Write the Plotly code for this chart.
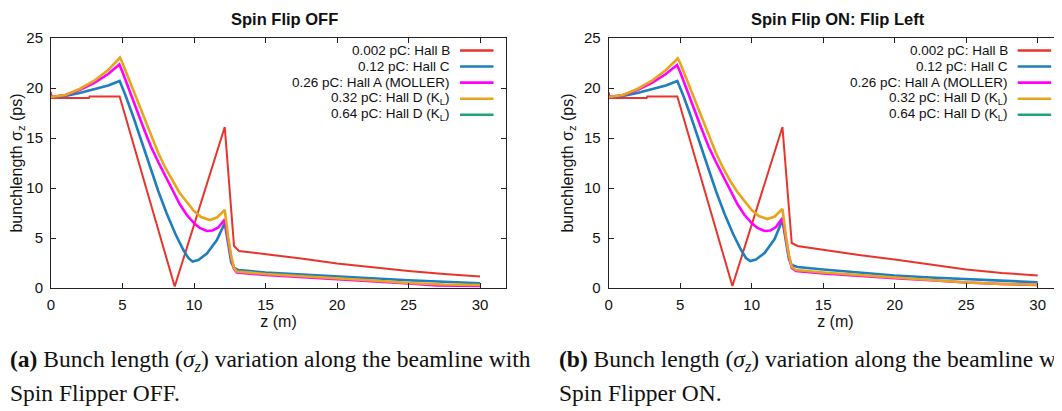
import plotly.graph_objects as go

# ---------------- data (z in m, sigma_z in ps) ----------------
# Panel (a): Spin Flip OFF
off_red_z = [0, 0.05, 2.65, 2.7, 4.8, 8.65, 12.15, 12.55, 12.8, 13.15, 15, 17.5, 20, 22.5, 25, 27.5, 30]
off_red_v = [19.6, 19.0, 19.0, 19.15, 19.15, 0.15, 16.1, 8.6, 4.2, 3.7, 3.4, 2.95, 2.45, 2.05, 1.7, 1.4, 1.15]

off_blue_z = [0, 1, 2, 3, 4, 4.8, 5.2, 5.76, 6.35, 6.92, 7.5, 8.09, 8.7, 9.26, 9.6, 9.9, 10.3, 10.9, 11.6, 12.15,
              12.4, 12.6, 12.8, 13.1, 15, 17.5, 20, 22.5, 25, 27.5, 30]
off_blue_v = [19.1, 19.2, 19.5, 19.85, 20.25, 20.7, 19.3, 17.1, 14.6, 12.1, 9.7, 7.45, 5.4, 3.8, 3.0, 2.65, 2.8, 3.45, 4.8, 6.5,
              4.3, 2.6, 2.0, 1.8, 1.55, 1.35, 1.12, 0.95, 0.78, 0.62, 0.48]

off_mag_z = [0, 1, 2, 3, 4, 4.78, 5.0, 5.5, 6, 6.5, 7, 7.5, 8, 8.5, 9, 9.5, 10, 10.4, 10.9, 11.3, 11.7, 12.15,
             12.4, 12.6, 12.8, 13.0, 15, 17.5, 20, 22.5, 25, 27, 30]
off_mag_v = [19.1, 19.3, 19.8, 20.5, 21.4, 22.35, 21.6, 19.8, 17.8, 15.9, 14.1, 12.6, 11.2, 9.8, 8.4, 7.3, 6.5, 6.0, 5.7, 5.75, 6.05, 6.85,
             4.5, 3.0, 1.9, 1.55, 1.3, 1.1, 0.88, 0.7, 0.45, 0.25, 0.2]

off_org_z = [0, 1, 2, 3, 4, 4.83, 5.0, 5.5, 6, 6.5, 7, 7.5, 8, 8.5, 9, 9.5, 10, 10.5, 11.1, 11.6, 12.15,
             12.4, 12.6, 12.8, 13.0, 15, 17.5, 20, 22.5, 25, 27.5, 30]
off_org_v = [19.1, 19.3, 19.9, 20.7, 21.8, 23.05, 22.5, 20.7, 18.9, 17.0, 15.2, 13.5, 12.0, 10.7, 9.5, 8.6, 7.7, 7.1, 6.8, 7.05, 7.8,
             5.0, 3.2, 2.0, 1.65, 1.4, 1.2, 0.95, 0.75, 0.5, 0.35, 0.3]

off_grn_z = []
off_grn_v = []

# Panel (b): Spin Flip ON: Flip Left
on_red_z = [0, 0.05, 2.65, 2.7, 4.8, 8.65, 12.15, 12.55, 12.8, 13.2, 15, 17.5, 20, 22.5, 25, 27.5, 30]
on_red_v = [19.6, 19.0, 19.0, 19.15, 19.15, 0.2, 16.1, 8.8, 4.5, 4.2, 3.8, 3.3, 2.85, 2.35, 1.85, 1.5, 1.25]

on_blue_z = [0, 1, 2, 3, 4, 4.8, 5.2, 5.76, 6.35, 6.92, 7.5, 8.09, 8.7, 9.26, 9.6, 9.9, 10.3, 10.9, 11.6, 12.15,
             12.4, 12.6, 12.8, 13.2, 15, 17.5, 20, 22.5, 25, 27.5, 30]
on_blue_v = [19.1, 19.2, 19.5, 19.85, 20.25, 20.7, 19.3, 17.1, 14.6, 12.1, 9.7, 7.45, 5.4, 3.8, 3.0, 2.7, 2.85, 3.5, 4.9, 6.8,
             4.5, 2.9, 2.3, 2.1, 1.85, 1.55, 1.25, 1.05, 0.9, 0.72, 0.57]

on_mag_z = [0, 1, 2, 3, 4, 4.78, 5.0, 5.5, 6, 6.5, 7, 7.5, 8, 8.5, 9, 9.5, 10, 10.4, 10.9, 11.3, 11.7, 12.15,
            12.4, 12.6, 12.8, 13.1, 15, 17.5, 20, 22.5, 25, 27.5, 30]
on_mag_v = [19.1, 19.3, 19.8, 20.5, 21.4, 22.3, 21.6, 19.8, 17.8, 15.9, 14.1, 12.6, 11.2, 9.8, 8.4, 7.3, 6.5, 6.0, 5.7, 5.75, 6.1, 7.0,
            4.7, 3.2, 2.0, 1.7, 1.45, 1.2, 0.98, 0.78, 0.55, 0.4, 0.3]

on_org_z = [0, 1, 2, 3, 4, 4.83, 5.0, 5.5, 6, 6.5, 7, 7.5, 8, 8.5, 9, 9.5, 10, 10.5, 11.1, 11.6, 12.15,
            12.4, 12.6, 12.8, 13.1, 15, 17.5, 20, 22.5, 25, 27.5, 30]
on_org_v = [19.1, 19.3, 19.9, 20.7, 21.8, 22.95, 22.5, 20.7, 18.9, 17.0, 15.2, 13.5, 12.0, 10.7, 9.6, 8.7, 7.8, 7.2, 6.9, 7.15, 7.9,
            5.1, 3.3, 2.1, 1.8, 1.55, 1.3, 1.02, 0.8, 0.55, 0.4, 0.32]

on_grn_z = []
on_grn_v = []

series_names = ["0.002 pC: Hall B", "0.12 pC: Hall C", "0.26 pC: Hall A (MOLLER)",
                "0.32 pC: Hall D (K<sub>L</sub>)", "0.64 pC: Hall D (K<sub>L</sub>)"]
series_colors = ["#e8352b", "#1f7fbd", "#ff00ff", "#e8a51c", "#1fa37a"]
series_widths = [2.0, 2.6, 2.6, 2.6, 2.6]

panel_titles = ["Spin Flip OFF", "Spin Flip ON: Flip Left"]
x_ticks = [0, 5, 10, 15, 20, 25, 30]
y_ticks = [0, 5, 10, 15, 20, 25]
x_title = "z (m)"
y_title = "bunchlength σ<sub>z</sub> (ps)"
captions = [
    ("<b>(a)</b> Bunch length (<i>σ<sub>z</sub></i>) variation along the beamline with", "Spin Flipper OFF."),
    ("<b>(b)</b> Bunch length (<i>σ<sub>z</sub></i>) variation along the beamline with", "Spin Flipper ON."),
]

panels = [
    [(off_red_z, off_red_v), (off_blue_z, off_blue_v), (off_mag_z, off_mag_v), (off_org_z, off_org_v), (off_grn_z, off_grn_v)],
    [(on_red_z, on_red_v), (on_blue_z, on_blue_v), (on_mag_z, on_mag_v), (on_org_z, on_org_v), (on_grn_z, on_grn_v)],
]

# ---------------- layout geometry ----------------
# target pixel positions are given in window pixels; the page body has an 8px margin,
# so the figure itself is 8px smaller and everything is shifted by OFF.
OFF = 8
WIN_W, WIN_H = 1062, 411
W, H = WIN_W - OFF, WIN_H - OFF
px_per_m = 14.3
plot_left = [51, 608.7]     # window px
plot_right = [506, 1062]
plot_top, plot_bottom = 37.5, 288

ML = plot_left[0] - OFF
MT = plot_top - OFF
MB = H - (plot_bottom - OFF)
MR = 0
PW, PH = W - ML - MR, H - MT - MB


def px(xwin):
    return (xwin - OFF - ML) / PW


def py(ywin):
    return (plot_bottom - ywin) / PH


fig = go.Figure()
SANS = "Liberation Sans, Arial, sans-serif"
axis_font = dict(family=SANS, size=15, color="#111")

for p, data in enumerate(panels):
    xa = "x" if p == 0 else "x2"
    ya = "y" if p == 0 else "y2"
    for i, (zs, vs) in enumerate(data):
        fig.add_trace(go.Scatter(x=zs, y=vs, mode="lines", name=series_names[i],
                                 line=dict(color=series_colors[i], width=series_widths[i]),
                                 xaxis=xa, yaxis=ya, showlegend=False))

common_x = dict(showline=True, linecolor="#222", linewidth=1, mirror="ticks", ticks="inside",
                ticklen=5, tickcolor="#222", tickvals=x_ticks, showgrid=False, zeroline=False,
                tickfont=axis_font, ticklabelstandoff=3, automargin=False,
                title=dict(text=x_title, font=dict(family=SANS, size=16, color="#111"), standoff=2))
common_y = dict(showline=True, linecolor="#222", linewidth=1, ticks="inside",
                ticklen=5, tickcolor="#222", tickvals=y_ticks, showgrid=False, zeroline=False,
                tickfont=axis_font, range=[0, 25], ticklabelstandoff=4, automargin=False,
                title=dict(text=y_title, font=dict(family=SANS, size=16, color="#111"), standoff=6))

xdoms = [[px(plot_left[i]), px(plot_right[i])] for i in range(2)]
xranges = [[0, (plot_right[i] - plot_left[i]) / px_per_m] for i in range(2)]

fig.update_layout(
    width=W, height=H, margin=dict(l=ML, r=MR, t=MT, b=MB, pad=0),
    paper_bgcolor="white", plot_bgcolor="white", showlegend=False,
    xaxis=dict(common_x, domain=xdoms[0], range=xranges[0], anchor="y"),
    yaxis=dict(common_y, domain=[0, 1], anchor="x", mirror="ticks"),
    xaxis2=dict(common_x, domain=xdoms[1], range=xranges[1], anchor="y2"),
    yaxis2=dict(common_y, domain=[0, 1], anchor="x2", mirror=False),
    yaxis3=dict(overlaying="y2", anchor="x2", side="right", range=[0, 25], tickvals=y_ticks,
                ticks="inside", ticklen=5, tickcolor="#222", showticklabels=False,
                showline=False, showgrid=False, zeroline=False, automargin=False),
)
# invisible trace so the right-hand tick axis of panel (b) is rendered
fig.add_trace(go.Scatter(x=[None], y=[None], xaxis="x2", yaxis="y3", showlegend=False, hoverinfo="skip"))

annotations = []
shapes = []
# titles
title_cx = [284, 838]
for p in range(2):
    annotations.append(dict(text="<b>" + panel_titles[p] + "</b>", x=px(title_cx[p]), y=py(8),
                            xref="paper", yref="paper", showarrow=False, xanchor="center", yanchor="top",
                            borderpad=0,
                            font=dict(family=SANS, size=16.5, color="#111")))

# custom gnuplot-style key (text right aligned, sample line on the right)
key_text_right = 452 - 51
key_line = (460 - 51, 493.5 - 51)
key_rows = [50 + 16.1 * i for i in range(5)]
for p in range(2):
    x0 = plot_left[p]
    for i in range(5):
        annotations.append(dict(text=series_names[i], x=px(x0 + key_text_right), y=py(key_rows[i]),
                                xref="paper", yref="paper", showarrow=False, xanchor="right", yanchor="middle",
                                font=dict(family=SANS, size=13.5, color="#111")))
        shapes.append(dict(type="line", xref="paper", yref="paper",
                           x0=px(x0 + key_line[0]), x1=px(x0 + key_line[1]),
                           y0=py(key_rows[i]), y1=py(key_rows[i]),
                           line=dict(color=series_colors[i], width=2.6)))

# captions
cap_x = [OFF, 557]
for p in range(2):
    for j, line_y in enumerate([361, 393]):
        annotations.append(dict(text=captions[p][j], x=px(cap_x[p]), y=py(line_y),
                                xref="paper", yref="paper", showarrow=False, xanchor="left", yanchor="middle",
                                font=dict(family="Liberation Serif, Times New Roman, serif", size=23.5, color="#111")))

fig.update_layout(annotations=annotations, shapes=shapes)
fig.write_html("out.html")
